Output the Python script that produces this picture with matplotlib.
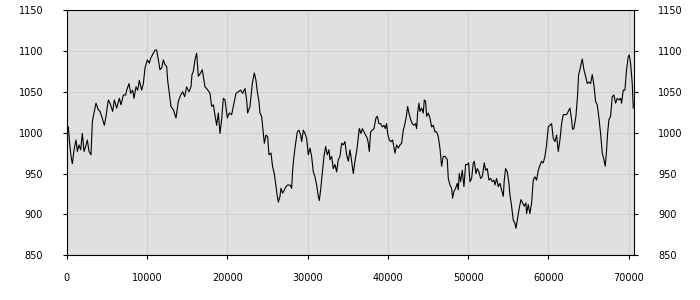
import matplotlib.pyplot as plt

# series
x_vals = [0, 204, 328, 536, 702, 909, 1158, 1325, 1532, 1740, 1947, 2155, 2362, 2570, 2777, 3026,
          3192, 3317, 3649, 3940, 4147, 4355, 4687, 4894, 5185, 5393, 5725, 5932, 6223, 6555, 6762,
          7053, 7343, 7468, 7759, 7966, 8215, 8381, 8630, 8838, 9045, 9336, 9544, 9751, 10042, 10291,
          10457, 10789, 10997, 11204, 11412, 11619, 11827, 12034, 12242, 12449, 12574, 12781, 12989,
          13279, 13611, 13902, 14192, 14441, 14690, 14940, 15230, 15479, 15604, 15770, 15977, 16185,
          16392, 16683, 16890, 17223, 17513, 17845, 18053, 18260, 18551, 18675, 18883, 19091, 19298,
          19506, 19713, 20004, 20253, 20544, 20834, 21083, 21374, 21664, 21913, 22204, 22411, 22536,
          22826, 23117, 23366, 23574, 23740, 23947, 24072, 24279, 24487, 24612, 24819, 25027, 25193,
          25442, 25649, 25857, 26064, 26230, 26355, 26562, 26687, 26894, 27102, 27310, 27517, 27807,
          28015, 28139, 28305, 28513, 28721, 28928, 29136, 29260, 29468, 29675, 29883, 30090, 30298,
          30505, 30713, 30921, 31128, 31336, 31460, 31626, 31834, 32041, 32249, 32456, 32664, 32789,
          32996, 33204, 33411, 33619, 33826, 34034, 34241, 34449, 34656, 34864, 35072, 35279, 35487,
          35694, 35902, 36109, 36234, 36441, 36649, 36815, 37023, 37230, 37438, 37562, 37687, 37853,
          38060, 38268, 38517, 38683, 38890, 39098, 39306, 39513, 39679, 39845, 39970, 40177, 40385,
          40592, 40800, 40883, 41090, 41298, 41505, 41713, 41920, 42128, 42336, 42460, 42626, 42834,
          43041, 43249, 43456, 43581, 43705, 43871, 43996, 44203, 44411, 44536, 44702, 44826, 45034,
          45241, 45449, 45656, 45864, 46071, 46279, 46487, 46611, 46694, 46902, 47109, 47400, 47524,
          47732, 47939, 48064, 48230, 48437, 48645, 48770, 48894, 49060, 49268, 49475, 49683, 49890,
          50056, 50222, 50430, 50637, 50762, 50970, 51136, 51343, 51551, 51758, 52007, 52173, 52381,
          52588, 52796, 53003, 53211, 53336, 53543, 53751, 53958, 54166, 54373, 54499, 54665, 54872,
          55080, 55204, 55412, 55619, 55827, 55951, 56118, 56367, 56574, 56782, 56989, 57197, 57280,
          57487, 57695, 57902, 58110, 58318, 58525, 58733, 58940, 59148, 59355, 59563, 59770, 59978,
          60186, 60393, 60601, 60808, 61016, 61223, 61431, 61638, 61846, 62053, 62261, 62469, 62676,
          62884, 63008, 63174, 63423, 63631, 63755, 63921, 64046, 64212, 64420, 64627, 64835, 65042,
          65250, 65457, 65665, 65872, 66080, 66288, 66495, 66703, 66910, 67076, 67242, 67367, 67533,
          67741, 67948, 68156, 68363, 68571, 68778, 68986, 69111, 69318, 69526, 69733, 69941, 70065,
          70231, 70439, 70564]
y_vals = [1001, 1007, 991, 971, 962, 979, 991, 977, 985, 979, 999, 977, 983, 991, 977, 973,
          1013, 1020, 1036, 1028, 1026, 1020, 1009, 1020, 1040, 1036, 1026, 1040, 1030, 1042, 1034,
          1046, 1046, 1052, 1060, 1048, 1052, 1042, 1056, 1052, 1064, 1052, 1060, 1079, 1089, 1085,
          1091, 1097, 1101, 1101, 1089, 1077, 1079, 1089, 1083, 1081, 1064, 1048, 1032,
          1028, 1018, 1038, 1046, 1050, 1044, 1056, 1050, 1056, 1071, 1075, 1089, 1097,
          1069, 1073, 1077, 1056, 1053, 1048, 1032, 1034, 1016, 1009, 1024, 999, 1016,
          1042, 1040, 1018, 1024, 1022, 1036, 1048, 1050, 1052, 1048, 1054, 1040, 1024,
          1032, 1060, 1073, 1064, 1050, 1038, 1024, 1020, 999, 987, 997, 995, 973,
          975, 958, 950, 934, 922, 915, 922, 932, 926, 930, 934, 936, 936,
          932, 954, 971, 987, 1001, 1003, 997, 989, 1003, 999, 993, 973, 981,
          971, 952, 946, 936, 922, 917, 930, 950, 971, 983, 973, 979, 967,
          971, 956, 961, 952, 967, 971, 987, 985, 989, 973, 965, 979, 965,
          950, 965, 977, 987, 1005, 999, 1005, 1001, 997, 993, 987, 977, 1001,
          1003, 1005, 1018, 1020, 1011, 1011, 1007, 1009, 1005, 1011, 999, 991, 989,
          991, 979, 975, 985, 981, 985, 987, 1003, 1011, 1022, 1032, 1024, 1016,
          1011, 1009, 1011, 1005, 1024, 1036, 1026, 1030, 1024, 1040, 1038, 1020, 1024,
          1018, 1007, 1009, 1001, 1001, 995, 981, 967, 959, 971, 971, 967, 944,
          936, 932, 920, 928, 932, 938, 930, 950, 940, 954, 934, 961, 961,
          963, 940, 944, 963, 965, 950, 956, 952, 944, 946, 963, 954, 956,
          942, 944, 940, 942, 936, 944, 934, 938, 930, 922, 942, 956, 952,
          938, 924, 910, 893, 889, 883, 893, 908, 918, 914, 910, 914, 901,
          912, 901, 914, 942, 946, 942, 954, 960, 965, 963, 971, 985, 1007,
          1009, 1011, 993, 989, 997, 977, 991, 1011, 1022, 1022, 1022, 1026, 1030,
          1016, 1004, 1005, 1020, 1046, 1071, 1077, 1083, 1090, 1077, 1069, 1060, 1062,
          1060, 1071, 1058, 1038, 1034, 1018, 999, 975, 967, 959, 979, 999, 1016,
          1020, 1044, 1046, 1036, 1042, 1040, 1042, 1036, 1052, 1052, 1077, 1093, 1095,
          1085, 1060, 1030]
x_ticks = [0, 10000, 20000, 30000, 40000, 50000, 60000, 70000]
y_ticks = [850, 900, 950, 1000, 1050, 1100, 1150]

fig = plt.figure(figsize=(7, 3), dpi=100)
ax = fig.add_axes([0.0953, 0.149, 0.8108, 0.8177])
ax.set_facecolor('#e0e0e0')
ax.plot(x_vals, y_vals, color='black', linewidth=0.8)

ax.set_xlim(0, 70690)
ax.set_ylim(850, 1150)
ax.set_xticks(x_ticks)
ax.set_yticks(y_ticks)
ax.grid(True, color='#d0d0d0', linewidth=0.8)
ax.set_axisbelow(True)

ax.tick_params(axis='y', which='both', left=True, right=True, labelleft=True, labelright=True,
               length=3, width=0.8, pad=14, labelsize=7)
ax.tick_params(axis='x', length=3, width=0.8, pad=10, labelsize=7)
for s in ax.spines.values():
    s.set_color('black')
    s.set_linewidth(0.8)

fig.savefig('out.png', dpi=100)
